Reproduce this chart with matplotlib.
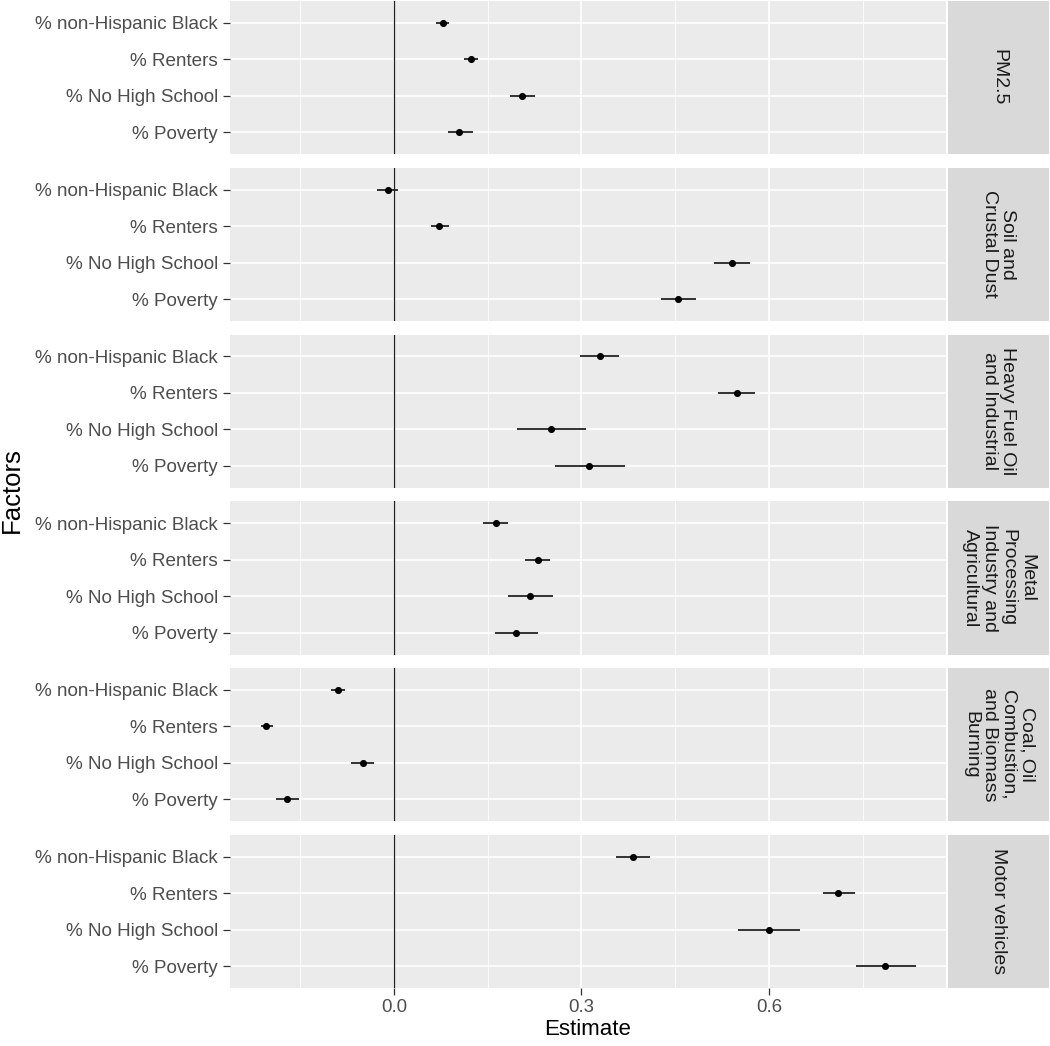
import matplotlib
matplotlib.use("Agg")
import matplotlib.pyplot as plt
import numpy as np

plt.rcParams['font.family'] = ['Liberation Sans', 'DejaVu Sans']

factors = ["PM2.5", "Soil and\nCrustal Dust", "Heavy Fuel Oil\nand Industrial",
           "Metal\nProcessing\nIndustry and\nAgricultural",
           "Coal, Oil\nCombustion,\nand Biomass\nBurning", "Motor vehicles"]
variables = ["% non-Hispanic Black", "% Renters", "% No High School", "% Poverty"]

# estimates per facet, in order of variables
est_pm25 = [0.078, 0.124, 0.205, 0.105]
est_soil = [-0.010, 0.073, 0.540, 0.454]
est_hfo = [0.329, 0.548, 0.251, 0.312]
est_metal = [0.163, 0.230, 0.218, 0.195]
est_coal = [-0.089, -0.204, -0.049, -0.171]
est_motor = [0.382, 0.711, 0.600, 0.786]

lo_pm25 = [0.067, 0.113, 0.186, 0.086]
hi_pm25 = [0.089, 0.135, 0.226, 0.127]
lo_soil = [-0.027, 0.059, 0.512, 0.427]
hi_soil = [0.006, 0.089, 0.569, 0.484]
lo_hfo = [0.297, 0.518, 0.197, 0.258]
hi_hfo = [0.360, 0.578, 0.307, 0.370]
lo_metal = [0.143, 0.210, 0.183, 0.161]
hi_metal = [0.183, 0.249, 0.255, 0.231]
lo_coal = [-0.100, -0.213, -0.068, -0.189]
hi_coal = [-0.078, -0.194, -0.031, -0.152]
lo_motor = [0.356, 0.686, 0.551, 0.739]
hi_motor = [0.410, 0.737, 0.649, 0.835]

estimates = [est_pm25, est_soil, est_hfo, est_metal, est_coal, est_motor]
lows = [lo_pm25, lo_soil, lo_hfo, lo_metal, lo_coal, lo_motor]
highs = [hi_pm25, hi_soil, hi_hfo, hi_metal, hi_coal, hi_motor]

x_ticks = [0.0, 0.3, 0.6]
x_ticklabels = ["0.0", "0.3", "0.6"]
x_minor = [-0.15, 0.15, 0.45, 0.75]

W, H = 1050, 1046
fig = plt.figure(figsize=(W / 100, H / 100), dpi=100)

left, right = 230, 946
strip_l, strip_r = 948, 1049
top, bottom = 1, 988
gap = 13.5
n = len(factors)
ph = (bottom - top - gap * (n - 1)) / n

ypos = np.arange(len(variables))[::-1] + 1  # Black on top

for i in range(n):
    y0 = top + i * (ph + gap)
    ax = fig.add_axes([left / W, 1 - (y0 + ph) / H, (right - left) / W, ph / H])
    ax.set_facecolor('#EBEBEB')
    for s in ax.spines.values():
        s.set_visible(False)
    ax.set_xlim(-0.262, 0.883)
    ax.set_ylim(0.4, 4.6)
    for xm in x_minor:
        ax.axvline(xm, color='white', lw=0.6, zorder=0)
    for xt in x_ticks:
        ax.axvline(xt, color='white', lw=1.2, zorder=0)
    for yv in ypos:
        ax.axhline(yv, color='white', lw=1.2, zorder=0)
    ax.axvline(0, color='#222222', lw=0.9, zorder=1)
    ax.hlines(ypos, lows[i], highs[i], color='#222222', lw=1.3, zorder=2)
    ax.scatter(estimates[i], ypos, s=26, color='black', zorder=3, linewidths=0)
    ax.set_yticks(ypos)
    ax.set_yticklabels(variables, fontsize=13.6, color='#4D4D4D')
    ax.tick_params(axis='y', length=5, width=0.9, color='#333333', pad=3.5)
    ax.set_xticks(x_ticks)
    if i == n - 1:
        ax.set_xticklabels(x_ticklabels, fontsize=13.4, color='#4D4D4D')
        ax.tick_params(axis='x', length=5, width=0.9, color='#333333', pad=3)
        ax.set_xlabel("Estimate", fontsize=16, color='black', labelpad=2)
    else:
        ax.tick_params(axis='x', length=0, labelbottom=False)
    # strip
    sax = fig.add_axes([strip_l / W, 1 - (y0 + ph) / H, (strip_r - strip_l) / W, ph / H])
    sax.set_facecolor('#D9D9D9')
    for s in sax.spines.values():
        s.set_visible(False)
    sax.set_xticks([])
    sax.set_yticks([])
    sax.text(0.5, 0.5, factors[i], rotation=270, ha='center', va='center',
             multialignment='center', fontsize=14, color='#1A1A1A',
             transform=sax.transAxes, linespacing=1.13)

fig.text(12 / W, 1 - 490 / H, "Factors", rotation=90, ha='center', va='center',
         fontsize=18.5, color='black')

fig.savefig("out.png", dpi=100)
